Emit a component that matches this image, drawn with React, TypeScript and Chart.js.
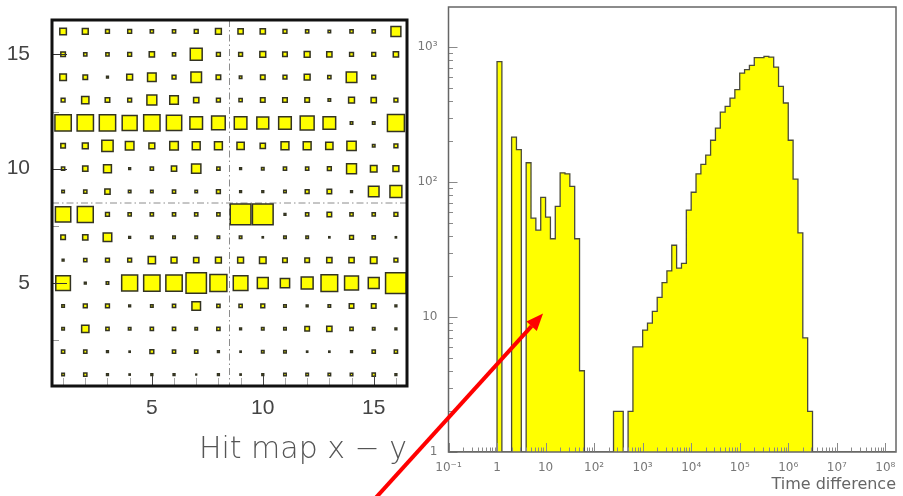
import React, { useEffect, useRef } from "react";
import { Chart, registerables } from "chart.js";
Chart.register(...registerables);

// ---------------- Left panel: hit map (box plot) ----------------
const hitColumns = [1, 2, 3, 4, 5, 6, 7, 8, 9, 10, 11, 12, 13, 14, 15, 16];
// one array per row of the hit map (row 16 is the top row)
const row16 = [80, 73, 53, 53, 47, 47, 53, 73, 67, 67, 53, 47, 40, 47, 47, 113];
const row15 = [60, 47, 47, 53, 67, 47, 133, 53, 53, 73, 60, 73, 67, 53, 53, 67];
const row14 = [80, 60, 33, 73, 100, 53, 120, 60, 40, 60, 53, 73, 47, 120, 53, 0];
const row13 = [53, 87, 60, 53, 113, 100, 67, 53, 47, 60, 60, 60, 40, 73, 67, 53];
const row12 = [177, 177, 177, 163, 177, 167, 140, 150, 140, 133, 140, 153, 140, 40, 40, 183];
const row11 = [60, 73, 127, 100, 73, 100, 93, 93, 87, 67, 93, 93, 87, 107, 40, 53];
const row10 = [47, 67, 93, 33, 47, 67, 107, 47, 33, 40, 47, 47, 53, 113, 80, 73];
const row09 = [40, 47, 67, 40, 40, 47, 40, 53, 33, 33, 40, 53, 60, 33, 120, 133];
const row08 = [167, 173, 53, 47, 47, 47, 47, 47, 220, 220, 33, 47, 60, 47, 47, 53];
const row07 = [60, 67, 100, 33, 40, 40, 40, 40, 40, 27, 40, 40, 27, 53, 47, 27];
const row06 = [33, 47, 53, 53, 87, 73, 67, 73, 73, 80, 60, 60, 67, 67, 80, 53];
const row05 = [160, 33, 40, 173, 177, 177, 217, 183, 160, 123, 107, 133, 180, 153, 123, 220];
const row04 = [40, 53, 53, 33, 40, 47, 100, 47, 47, 53, 40, 33, 40, 60, 60, 33];
const row03 = [40, 87, 47, 40, 47, 47, 40, 47, 33, 40, 40, 60, 67, 47, 40, 33];
const row02 = [47, 47, 33, 27, 53, 47, 47, 33, 27, 40, 40, 27, 27, 33, 47, 47];
const row01 = [40, 47, 33, 27, 33, 33, 20, 33, 27, 33, 40, 40, 40, 40, 47, 33];
const hitRowsBottomUp = [row01, row02, row03, row04, row05, row06, row07, row08, row09, row10, row11, row12, row13, row14, row15, row16];
const hitMax = 220;
const hitTickValues = [5, 10, 15];
const hitMinorY = [2.5, 7.5, 12.5];
const hitDivider = 8.5;
const hitTitle = "Hit map x \u2212 y";

// ---------------- Right panel: time difference histogram ----------------
const binStartLog10 = -1.0;
const binWidthLog10 = 0.1;
// counts per 0.1-decade bin, starting at 10^-1
const timeCounts = [
  0, 0, 0, 0, 0, 0, 0, 0, 0, 0, // 10^-1 .. 1
  780, 0, 0, 215, 174, 0, 139, 54, 44, 77, // 1 .. 10
  55, 38, 66, 117, 115, 93, 38, 4, 0, 0, // 10 .. 10^2
  0, 0, 0, 0, 2, 2, 0, 2, 6, 6, // 10^2 .. 10^3
  8, 9, 11, 14, 18, 22, 34, 23, 25, 62, // 10^3 .. 10^4
  84, 115, 135, 158, 204, 251, 330, 364, 419, 483, // 10^4 .. 10^5
  641, 680, 731, 834, 834, 853, 843, 711, 512, 385, // 10^5 .. 10^6
  204, 105, 42, 7, 2, 0, 0, 0, 0, 0, // 10^6 .. 10^7
  0, 0, 0, 0, 0, 0, 0, 0, 0, 0, // 10^7 .. 10^8
  0, 0, // 10^8 .. 10^8.2
];
const xTickValues = [1e-1, 1, 1e1, 1e2, 1e3, 1e4, 1e5, 1e6, 1e7, 1e8];
const xTickLabels = ["10\u207B\u00B9", "1", "10", "10\u00B2", "10\u00B3", "10\u2074", "10\u2075", "10\u2076", "10\u2077", "10\u2078"];
const yTickValues = [1, 10, 100, 1000];
const yTickLabels = ["1", "10", "10\u00B2", "10\u00B3"];
const xMin = 0.1;
const xMax = 1.66e8;
const yMin = 1;
const yMax = 1980;
const timeTitle = "Time difference";
// annotation arrow (data coordinates of the right panel)
const arrowFrom = { x: 0.0024, y: 0.41 };
const arrowTo = { x: 8.87, y: 10.6 };

const W = 903;
const H = 496;

function zeroPad(s: any) {
  s.paddingTop = 0;
  s.paddingBottom = 0;
  s.paddingLeft = 0;
  s.paddingRight = 0;
}

function leftConfig(): any {
  const points: any[] = [];
  hitRowsBottomUp.forEach((row, ri) => {
    row.forEach((v, ci) => {
      if (v > 0) points.push({ x: hitColumns[ci], y: ri + 1, v });
    });
  });
  const boxBorder = 1.5;
  const decor = {
    id: "leftDecor",
    beforeDatasetsDraw(chart: any) {
      const { ctx, chartArea: a, scales } = chart;
      const xs = scales.x, ys = scales.y;
      ctx.save();
      ctx.strokeStyle = "#8c8c8c";
      ctx.lineWidth = 1;
      ctx.setLineDash([7, 3, 1.5, 3]);
      const px = xs.getPixelForValue(hitDivider);
      const py = ys.getPixelForValue(hitDivider);
      ctx.beginPath();
      ctx.moveTo(px, a.top);
      ctx.lineTo(px, a.bottom);
      ctx.moveTo(a.left, py);
      ctx.lineTo(a.right, py);
      ctx.stroke();
      ctx.restore();
    },
    afterDatasetsDraw(chart: any) {
      const { ctx, chartArea: a, scales } = chart;
      const xs = scales.x, ys = scales.y;
      ctx.save();
      ctx.lineWidth = 1;
      hitColumns.forEach((c) => {
        const major = hitTickValues.includes(c);
        const p = Math.round(xs.getPixelForValue(c)) + 0.5;
        ctx.strokeStyle = major ? "#444" : "#aaa";
        ctx.beginPath();
        ctx.moveTo(p, a.bottom);
        ctx.lineTo(p, a.bottom - (major ? 10 : 8));
        ctx.stroke();
      });
      hitTickValues.forEach((v) => {
        const p = Math.round(ys.getPixelForValue(v)) + 0.5;
        ctx.strokeStyle = "#333";
        ctx.beginPath();
        ctx.moveTo(a.left, p);
        ctx.lineTo(a.left + 15, p);
        ctx.stroke();
      });
      hitMinorY.forEach((v) => {
        const p = Math.round(ys.getPixelForValue(v)) + 0.5;
        ctx.strokeStyle = "#999";
        ctx.beginPath();
        ctx.moveTo(a.left, p);
        ctx.lineTo(a.left + 7, p);
        ctx.stroke();
      });
      ctx.strokeStyle = "#111";
      ctx.lineWidth = 3;
      ctx.strokeRect(a.left, a.top, a.right - a.left, a.bottom - a.top);
      ctx.restore();
    },
  };
  const tickFont = { family: "'Liberation Sans', Arial, sans-serif", size: 21 };
  return {
    type: "scatter",
    data: {
      datasets: [
        {
          data: points,
          pointStyle: "rect",
          backgroundColor: "#ffff00",
          borderColor: "#333322",
          borderWidth: boxBorder,
          pointRadius: (ctx: any) => {
            const raw = ctx.raw;
            if (!raw) return 0;
            const xs = ctx.chart.scales.x;
            const cell = Math.abs(xs.getPixelForValue(1) - xs.getPixelForValue(0));
            const side = (raw.v / hitMax) * cell;
            const path = Math.max(side - boxBorder, 0.8);
            return path / 2 / Math.SQRT1_2;
          },
          pointHoverRadius: 0,
        },
      ],
    },
    options: {
      responsive: false,
      animation: false,
      events: [],
      layout: { padding: { left: 0, top: 20, right: W - 407, bottom: 0 } },
      plugins: { legend: { display: false }, tooltip: { enabled: false } },
      scales: {
        x: {
          type: "linear",
          min: 0.5,
          max: 16.5,
          grid: { display: false, drawTicks: false },
          border: { display: false },
          afterFit: (s: any) => { s.height = H - 386; zeroPad(s); },
          afterBuildTicks: (s: any) => { s.ticks = hitTickValues.map((v) => ({ value: v })); },
          ticks: { font: tickFont, color: "#444", padding: 10, maxRotation: 0, autoSkip: false },
          title: {
            display: true,
            text: hitTitle,
            align: "end",
            color: "#555",
            font: { family: "'DejaVu Sans', sans-serif", size: 30, weight: "200" },
            padding: { top: 0, bottom: 28 },
          },
        },
        y: {
          type: "linear",
          min: 0.5,
          max: 16.5,
          grid: { display: false, drawTicks: false },
          border: { display: false },
          afterFit: (s: any) => { s.width = 52; zeroPad(s); },
          afterBuildTicks: (s: any) => { s.ticks = hitTickValues.map((v) => ({ value: v })); },
          ticks: { font: tickFont, color: "#444", padding: 22, autoSkip: false },
        },
      },
    },
    plugins: [decor],
  };
}

function rightConfig(): any {
  const pts: any[] = [];
  timeCounts.forEach((c, i) => {
    const lo = binStartLog10 + i * binWidthLog10;
    pts.push({ x: Math.pow(10, lo), y: c > 0 ? c : yMin });
  });
  pts.push({ x: Math.pow(10, binStartLog10 + timeCounts.length * binWidthLog10), y: yMin });

  const decor = {
    id: "rightDecor",
    afterDatasetsDraw(chart: any) {
      const { ctx, chartArea: a, scales } = chart;
      const xs = scales.x, ys = scales.y;
      ctx.save();
      ctx.lineWidth = 1;
      ctx.strokeStyle = "#8a8a8a";
      for (let n = -1; n <= 8; n++) {
        for (let m = 1; m <= 9; m++) {
          const v = m * Math.pow(10, n);
          if (v < xMin || v > xMax) continue;
          const p = Math.round(xs.getPixelForValue(v)) + 0.5;
          ctx.beginPath();
          ctx.moveTo(p, a.bottom);
          ctx.lineTo(p, a.bottom - (m === 1 ? 9 : 4.5));
          ctx.stroke();
        }
      }
      for (let n = 0; n <= 3; n++) {
        for (let m = 1; m <= 9; m++) {
          const v = m * Math.pow(10, n);
          if (v < yMin || v > yMax) continue;
          const p = Math.round(ys.getPixelForValue(v)) + 0.5;
          ctx.beginPath();
          ctx.moveTo(a.left, p);
          ctx.lineTo(a.left + (m === 1 ? 9 : 4.5), p);
          ctx.stroke();
        }
      }
      ctx.strokeStyle = "#666";
      ctx.lineWidth = 1.5;
      ctx.strokeRect(a.left, a.top, a.right - a.left, a.bottom - a.top);
      ctx.restore();
    },
    afterDraw(chart: any) {
      const { ctx, scales } = chart;
      const xs = scales.x, ys = scales.y;
      const x0 = xs.getPixelForValue(arrowFrom.x), y0 = ys.getPixelForValue(arrowFrom.y);
      const x1 = xs.getPixelForValue(arrowTo.x), y1 = ys.getPixelForValue(arrowTo.y);
      const ang = Math.atan2(y1 - y0, x1 - x0);
      const headLen = 17, headHalf = 7;
      const bx = x1 - headLen * Math.cos(ang), by = y1 - headLen * Math.sin(ang);
      ctx.save();
      ctx.strokeStyle = "#ff0000";
      ctx.fillStyle = "#ff0000";
      ctx.lineWidth = 4;
      ctx.beginPath();
      ctx.moveTo(x0, y0);
      ctx.lineTo(bx, by);
      ctx.stroke();
      ctx.beginPath();
      ctx.moveTo(x1, y1);
      ctx.lineTo(bx + headHalf * Math.sin(ang), by - headHalf * Math.cos(ang));
      ctx.lineTo(bx - headHalf * Math.sin(ang), by + headHalf * Math.cos(ang));
      ctx.closePath();
      ctx.fill();
      ctx.restore();
    },
  };
  const tickFont = { family: "'DejaVu Sans', sans-serif", size: 12 };
  return {
    type: "line",
    data: {
      datasets: [
        {
          data: pts,
          stepped: "before",
          fill: "start",
          backgroundColor: "#ffff00",
          borderColor: "#4a4a3a",
          borderWidth: 1.3,
          pointRadius: 0,
          pointHoverRadius: 0,
          tension: 0,
        },
      ],
    },
    options: {
      responsive: false,
      animation: false,
      events: [],
      layout: { padding: { left: 400, top: 7, right: W - 896, bottom: 0 } },
      plugins: { legend: { display: false }, tooltip: { enabled: false } },
      scales: {
        x: {
          type: "logarithmic",
          min: xMin,
          max: xMax,
          grid: { display: false, drawTicks: false },
          border: { display: false },
          afterFit: (s: any) => { s.height = H - 452; zeroPad(s); },
          afterBuildTicks: (s: any) => { s.ticks = xTickValues.map((v) => ({ value: v })); },
          ticks: {
            font: tickFont,
            color: "#777",
            padding: 9,
            maxRotation: 0,
            autoSkip: false,
            callback: (v: any) => {
              const i = xTickValues.findIndex((t) => Math.abs(Math.log10(t) - Math.log10(v)) < 1e-6);
              return i >= 0 ? xTickLabels[i] : "";
            },
          },
          title: {
            display: true,
            text: timeTitle,
            align: "end",
            color: "#666",
            font: { family: "'DejaVu Sans', sans-serif", size: 16 },
            padding: { top: 0, bottom: 2 },
          },
        },
        y: {
          type: "logarithmic",
          min: yMin,
          max: yMax,
          grid: { display: false, drawTicks: false },
          border: { display: false },
          afterFit: (s: any) => { s.width = 48.5; zeroPad(s); },
          afterBuildTicks: (s: any) => { s.ticks = yTickValues.map((v) => ({ value: v })); },
          ticks: {
            font: tickFont,
            color: "#777",
            padding: 11,
            autoSkip: false,
            callback: (v: any) => {
              const i = yTickValues.findIndex((t) => Math.abs(Math.log10(t) - Math.log10(v)) < 1e-6);
              return i >= 0 ? yTickLabels[i] : "";
            },
          },
        },
      },
    },
    plugins: [decor],
  };
}

export default function App() {
  const leftRef = useRef<HTMLCanvasElement>(null);
  const rightRef = useRef<HTMLCanvasElement>(null);
  useEffect(() => {
    const c1 = new Chart(leftRef.current as HTMLCanvasElement, leftConfig());
    const c2 = new Chart(rightRef.current as HTMLCanvasElement, rightConfig());
    return () => {
      c1.destroy();
      c2.destroy();
    };
  }, []);
  return (
    <div style={{ position: "absolute", left: 0, top: 0, width: W, height: H, background: "#ffffff", overflow: "hidden" }}>
      <canvas ref={leftRef} width={W} height={H} style={{ position: "absolute", left: 0, top: 0 }} />
      <canvas ref={rightRef} width={W} height={H} style={{ position: "absolute", left: 0, top: 0 }} />
    </div>
  );
}
